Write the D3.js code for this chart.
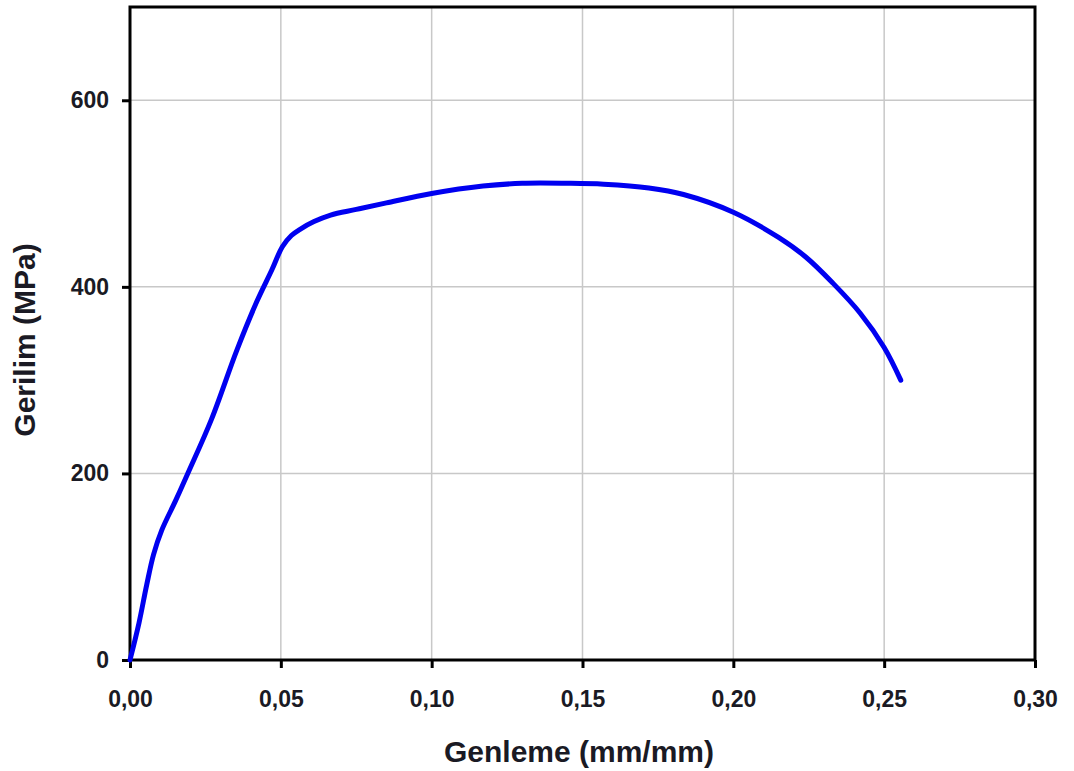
<!DOCTYPE html>
<html>
<head>
<meta charset="utf-8">
<script src="https://cdn.jsdelivr.net/npm/d3@7"></script>
<style>
  html, body { margin: 0; padding: 0; background: #fff; }
  svg { display: block; }
  text { font-family: "Liberation Sans", Arial, sans-serif; font-weight: bold; fill: #1a1a24; }
</style>
</head>
<body>
<svg id="chart" width="1074" height="771"></svg>
<script>
// Data: strain (mm/mm) and stress (MPa)
const strain = [0, 0.0030, 0.0055, 0.0078, 0.0105, 0.0150, 0.0193, 0.0270, 0.0354, 0.0420, 0.0470, 0.0505, 0.0535, 0.0565, 0.0610, 0.0665, 0.0750, 0.0850, 0.1000, 0.1170, 0.1300, 0.1450, 0.1570, 0.1720, 0.1835, 0.2000, 0.2150, 0.2240, 0.2330, 0.2420, 0.2500, 0.2555];
const stress = [0, 40, 80, 113, 139, 170, 201, 258, 332, 384, 418, 443, 455, 462, 470, 477, 483, 490, 500, 508, 511, 511, 510, 506, 499, 480, 453, 432, 404, 372, 335, 300];
const xTicks = [0, 0.05, 0.10, 0.15, 0.20, 0.25, 0.30];
const yTicks = [0, 200, 400, 600];
const xTitle = "Genleme (mm/mm)";
const yTitle = "Gerilim (MPa)";

const svg = d3.select("#chart");
const L = 130, R = 1035, T = 7, B = 660;
const x = d3.scaleLinear().domain([0, 0.30]).range([L, R]);
const y = d3.scaleLinear().domain([0, 700]).range([B, T]);
const fmtX = v => d3.format(".2f")(v).replace(".", ",");

// gridlines
svg.append("g").selectAll("line").data(xTicks.slice(1, -1)).join("line")
  .attr("x1", d => x(d)).attr("x2", d => x(d)).attr("y1", T).attr("y2", B)
  .attr("stroke", "#c8c8c8").attr("stroke-width", 1.5);
svg.append("g").selectAll("line").data(yTicks.slice(1)).join("line")
  .attr("x1", L).attr("x2", R).attr("y1", d => y(d)).attr("y2", d => y(d))
  .attr("stroke", "#c8c8c8").attr("stroke-width", 1.5);

// axes
const xAxis = svg.append("g").attr("transform", `translate(0,${B})`)
  .call(d3.axisBottom(x).tickValues(xTicks).tickFormat(fmtX).tickSize(8).tickPadding(23));
const yAxis = svg.append("g").attr("transform", `translate(${L},0)`)
  .call(d3.axisLeft(y).tickValues(yTicks).tickFormat(d3.format("d")).tickSize(8).tickPadding(13));
[xAxis, yAxis].forEach(a => {
  a.select(".domain").remove();
  a.selectAll(".tick line").attr("stroke", "#000").attr("stroke-width", 3);
  a.selectAll(".tick text").style("font-size", "23px").style("font-family", "\"Liberation Sans\", Arial, sans-serif").style("font-weight", "bold").attr("fill", "#1a1a24");
});

// frame
svg.append("rect").attr("x", L).attr("y", T).attr("width", R - L).attr("height", B - T)
  .attr("fill", "none").attr("stroke", "#000").attr("stroke-width", 3);

// curve
const pts = strain.map((s, i) => [s, stress[i]]);
svg.append("path").datum(pts)
  .attr("fill", "none").attr("stroke", "#0000f0").attr("stroke-width", 5)
  .attr("stroke-linejoin", "round").attr("stroke-linecap", "round")
  .attr("d", d3.line().x(d => x(d[0])).y(d => y(d[1])).curve(d3.curveCatmullRom.alpha(0.5)));

// titles
svg.append("text").attr("x", 579).attr("y", 762).attr("text-anchor", "middle")
  .style("font-size", "30px").text(xTitle);
svg.append("text").attr("transform", "translate(35,340) rotate(-90)").attr("text-anchor", "middle")
  .style("font-size", "30px").text(yTitle);
</script>
</body>
</html>
